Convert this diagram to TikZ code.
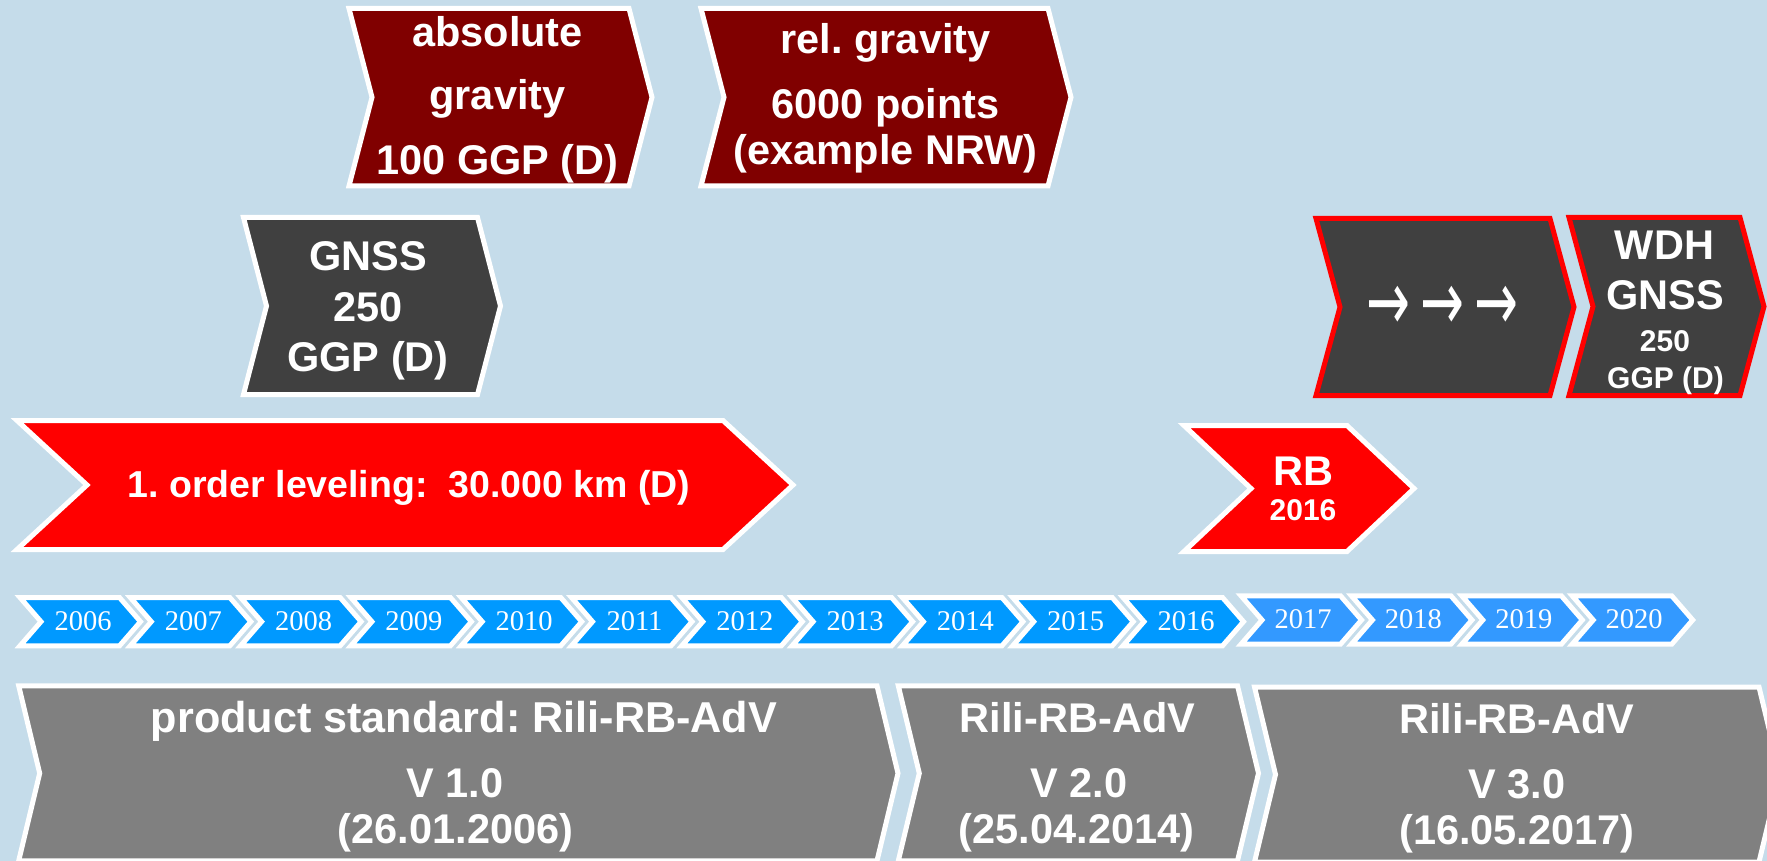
\documentclass[tikz,border=0pt]{standalone}
\usepackage{fontspec}
\setmainfont{Liberation Sans}
\newfontfamily\yearfont{Liberation Serif}
\newfontfamily\arrowfont{DejaVu Sans}
\frenchspacing
\definecolor{bgblue}{RGB}{197,220,234}
\definecolor{darkred}{RGB}{128,0,0}
\definecolor{darkgrey}{RGB}{64,64,64}
\definecolor{midgrey}{RGB}{128,128,128}
\definecolor{yearblue}{RGB}{0,153,255}
\definecolor{yearlight}{RGB}{51,153,255}

% chevron: top-left (#2,#3), top-right (#4,#3), bottom y #5, notch/point depth #6
\newcommand\chev[6][]{%
  \path[#1] (#2,#3) -- (#4,#3) -- ({#4+#6},{(#3+#5)/2}) -- (#4,#5)
    -- (#2,#5) -- ({#2+#6},{(#3+#5)/2}) -- cycle;}
% a tall open-headed arrow glyph
\newcommand\tallarrow{\scalebox{1.25}[2]{→}}

\begin{document}
\begin{tikzpicture}[x=1pt,y=-1pt,
  box/.style={line width=5pt, draw=white},
  redbox/.style={line width=5pt, draw=red, fill=darkgrey},
  yearbox/.style={line width=5pt, draw=white},
  lbl/.style={text=white, inner sep=0pt, anchor=base,
    font=\bfseries\fontsize{41.5}{41.5}\selectfont},
  widelbl/.style={lbl, font=\bfseries\fontsize{43.2}{43.2}\selectfont},
  midlbl/.style={lbl, font=\bfseries\fontsize{37.5}{37.5}\selectfont},
  smalllbl/.style={lbl, font=\bfseries\fontsize{30}{30}\selectfont},
  yearlbl/.style={text=white, inner sep=0pt, anchor=base,
    font=\yearfont\fontsize{28.5}{28.5}\selectfont},
  arrowlbl/.style={text=white, inner sep=0pt,
    font=\arrowfont\fontsize{42}{42}\selectfont}]

\useasboundingbox (0,0) rectangle (1767,861);
\fill[bgblue] (0,0) rectangle (1767,861);

% gravity campaigns
\chev[box, fill=darkred]{349}{8.5}{629}{186}{23}
\node[lbl] (absA) at (497.5,46.7) {absolute};
\node[lbl] (absB) at (497.5,110) {gravity};
\node[lbl] (absC) at (497.5,175) {100 GGP (D)};

\chev[box, fill=darkred]{701}{8.5}{1048}{186}{23}
\node[lbl] (relA) at (885.6,53.5) {rel. gravity};
\node[lbl] (relB) at (885.6,119) {6000 points};
\node[lbl] (relC) at (885.6,165) {(example NRW)};

% GNSS campaign
\chev[box, fill=darkgrey]{243.5}{217.5}{477.5}{394.5}{23}
\node[lbl] (gnssA) at (368,270.7) {GNSS};
\node[lbl] (gnssB) at (368,321.7) {250};
\node[lbl] (gnssC) at (368,371.7) {GGP (D)};

% levelling
\chev[box, fill=red]{17}{420.5}{723}{549.5}{70}
\node[midlbl] (level) at (409,497) {1. order leveling:\ \ 30.000 km (D)};

\chev[box, fill=red]{1184}{425.5}{1347}{551.5}{67}
\node[lbl] (rbA) at (1303.5,485) {RB};
\node[smalllbl] (rbB) at (1303,520) {2016};

% repetition
\chev[redbox]{1316}{218.5}{1550}{395.5}{24}
\node[arrowlbl] (arrows) at (1442,308) {\tallarrow\hspace{10pt}\tallarrow\hspace{10pt}\tallarrow};

\chev[redbox]{1569}{217.5}{1740}{395.5}{24}
\node[lbl] (wdhA) at (1664.5,259) {WDH};
\node[lbl] (wdhB) at (1665,309) {GNSS};
\node[smalllbl] (wdhC) at (1665,351) {250};
\node[smalllbl] (wdhD) at (1665.5,388) {GGP (D)};

% time line
\foreach \yr [count=\i from 0] in {2006,...,2016} {
  \pgfmathsetmacro\xa{20+110.3*\i}
  \pgfmathsetmacro\xb{\xa+99.5}
  \chev[yearbox, fill=yearblue]{\xa}{597.5}{\xb}{645.8}{21}
  \node[yearlbl] (y\yr) at ({\xa+63},630) {\yr};
}
\foreach \yr [count=\i from 0] in {2017,...,2020} {
  \pgfmathsetmacro\xa{1241+110.4*\i}
  \pgfmathsetmacro\xb{\xa+99.5}
  \chev[yearbox, fill=yearlight]{\xa}{595.8}{\xb}{644.2}{21}
  \node[yearlbl] (y\yr) at ({\xa+62},628.3) {\yr};
}

% product standard versions
\chev[box, fill=midgrey]{18.7}{685.8}{877}{860.8}{21}
\node[widelbl] (vaA) at (464,732.7) {product standard: Rili-RB-AdV};
\node[lbl] (vaB) at (455,797) {V 1.0};
\node[lbl] (vaC) at (455.5,843.3) {(26.01.2006)};

\chev[box, fill=midgrey]{898.3}{685.8}{1237.5}{860.8}{21}
\node[lbl] (vbA) at (1077.5,732.7) {Rili-RB-AdV};
\node[lbl] (vbB) at (1079,797) {V 2.0};
\node[lbl] (vbC) at (1076.5,843.3) {(25.04.2014)};

\chev[box, fill=midgrey]{1254.5}{687}{1759}{862}{21}
\node[lbl] (vcA) at (1517,733.5) {Rili-RB-AdV};
\node[lbl] (vcB) at (1517,798) {V 3.0};
\node[lbl] (vcC) at (1517,844) {(16.05.2017)};
\end{tikzpicture}
\end{document}
